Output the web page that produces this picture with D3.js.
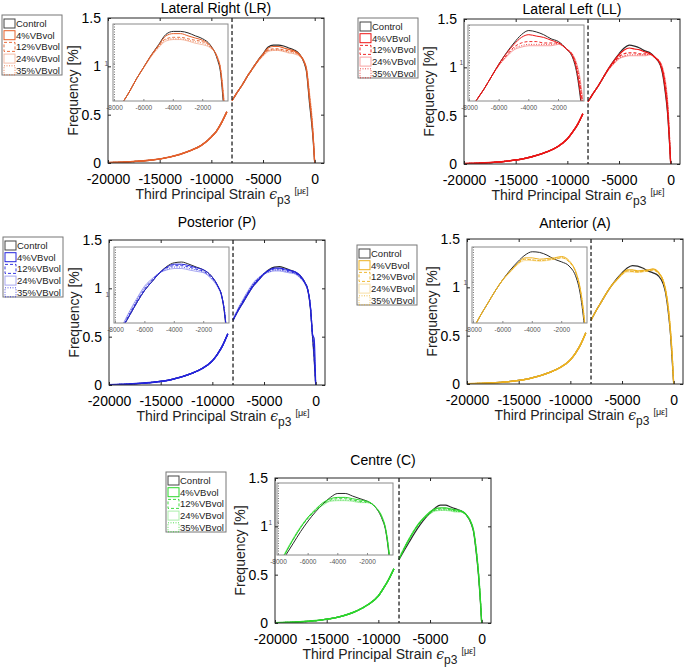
<!DOCTYPE html>
<html><head><meta charset="utf-8">
<script src="https://cdn.jsdelivr.net/npm/d3@7"></script>
<style>
body{margin:0;background:#fff}
svg{display:block}
text{font-family:"Liberation Sans",Arial,sans-serif}
</style>
</head><body>
<svg id="c" width="687" height="671"></svg>
<script>
// ---------- data ----------
const seriesNames = ["Control","4%VBvol","12%VBvol","24%VBvol","35%VBvol"];
const xLeft  = [-20000,-18000,-16000,-14000,-12000,-11000,-10000,-9500,-9000,-8500];
const xRight = [-8000,-7500,-7000,-6500,-6000,-5500,-5000,-4500,-4000,-3500,-3000,-2500,-2000,-1500,-1000,-800,-500,-300,-150,0];
const xTicks = [-20000,-15000,-10000,-5000,0];
const yTicks = [0,0.5,1,1.5];
const insetXTicks = [-8000,-6000,-4000,-2000];
const insetYTicks = [1];
const threshold = -8000;

// Lateral Right
const lrLeft    = [0.004,0.012,0.028,0.062,0.13,0.18,0.27,0.33,0.42,0.53];
const lrControl = [0.645,0.73,0.81,0.90,0.98,1.06,1.13,1.20,1.22,1.22,1.21,1.19,1.17,1.13,1.03,0.95,0.62,0.42,0.24,0];
const lr4       = [0.645,0.73,0.81,0.90,0.98,1.06,1.125,1.19,1.205,1.205,1.19,1.175,1.16,1.125,1.04,0.97,0.66,0.46,0.27,0];
const lr12      = [0.645,0.73,0.81,0.90,0.98,1.055,1.12,1.17,1.18,1.18,1.17,1.16,1.15,1.12,1.04,0.97,0.68,0.48,0.28,0];
const lr24      = [0.645,0.73,0.81,0.90,0.975,1.05,1.11,1.155,1.165,1.165,1.155,1.14,1.13,1.11,1.05,0.98,0.72,0.52,0.30,0];
const lr35      = [0.645,0.73,0.81,0.90,0.98,1.055,1.115,1.165,1.17,1.17,1.16,1.15,1.14,1.115,1.045,0.975,0.70,0.50,0.29,0];
// Lateral Left
const llLeft    = [0.004,0.012,0.028,0.06,0.125,0.175,0.26,0.33,0.41,0.52];
const llControl = [0.645,0.73,0.81,0.90,0.99,1.07,1.14,1.20,1.23,1.22,1.20,1.17,1.15,1.10,1.02,0.94,0.72,0.52,0.28,0];
const ll4       = [0.645,0.73,0.81,0.90,0.99,1.065,1.13,1.18,1.20,1.19,1.18,1.16,1.14,1.10,1.03,0.96,0.75,0.55,0.30,0];
const ll12      = [0.645,0.73,0.81,0.90,0.985,1.05,1.11,1.14,1.15,1.15,1.14,1.14,1.14,1.10,1.04,0.98,0.80,0.60,0.33,0];
const ll24      = [0.645,0.73,0.81,0.90,0.98,1.04,1.09,1.11,1.12,1.12,1.12,1.12,1.13,1.10,1.05,1.00,0.85,0.65,0.38,0];
const ll35      = [0.645,0.73,0.81,0.90,0.98,1.045,1.10,1.12,1.13,1.13,1.13,1.13,1.135,1.10,1.045,0.99,0.82,0.62,0.35,0];
// Posterior
const pLeft     = [0.003,0.01,0.025,0.055,0.12,0.17,0.25,0.32,0.41,0.53];
const pControl  = [0.67,0.77,0.86,0.95,1.03,1.09,1.15,1.195,1.22,1.225,1.21,1.19,1.17,1.13,1.05,1.0,0.78,0.5,0.28,0];
const p4        = [0.67,0.77,0.86,0.95,1.03,1.09,1.15,1.19,1.21,1.21,1.20,1.185,1.17,1.13,1.05,1.0,0.8,0.52,0.48,0];
const p12       = [0.67,0.775,0.87,0.96,1.04,1.10,1.15,1.185,1.20,1.20,1.19,1.175,1.16,1.12,1.05,1.0,0.8,0.5,0.3,0];
const p24       = [0.68,0.79,0.89,0.98,1.06,1.11,1.15,1.17,1.18,1.18,1.17,1.16,1.15,1.11,1.04,0.99,0.79,0.48,0.26,0];
const p35       = [0.675,0.785,0.88,0.97,1.05,1.105,1.15,1.175,1.19,1.19,1.18,1.17,1.155,1.115,1.045,0.995,0.8,0.5,0.35,0];
// Anterior
const aLeft     = [0.003,0.01,0.024,0.055,0.12,0.17,0.25,0.32,0.41,0.53];
const aControl  = [0.66,0.76,0.85,0.94,1.02,1.09,1.15,1.20,1.225,1.22,1.20,1.17,1.15,1.12,1.03,0.95,0.72,0.5,0.25,0];
const a4        = [0.66,0.76,0.85,0.94,1.02,1.08,1.14,1.18,1.18,1.17,1.175,1.18,1.19,1.16,1.06,0.98,0.76,0.52,0.3,0];
const a12       = [0.66,0.76,0.85,0.94,1.02,1.08,1.135,1.17,1.165,1.16,1.165,1.17,1.18,1.15,1.06,0.98,0.76,0.53,0.3,0];
const a24       = [0.66,0.76,0.85,0.94,1.015,1.075,1.13,1.16,1.16,1.155,1.16,1.17,1.18,1.15,1.07,0.99,0.78,0.55,0.32,0];
const a35       = [0.66,0.76,0.85,0.94,1.02,1.08,1.135,1.17,1.165,1.16,1.165,1.175,1.185,1.155,1.065,0.985,0.77,0.54,0.31,0];
// Centre
const cLeft     = [0.003,0.01,0.025,0.058,0.13,0.19,0.28,0.36,0.45,0.56];
const cControl  = [0.655,0.75,0.84,0.93,1.01,1.08,1.14,1.19,1.22,1.22,1.20,1.18,1.16,1.12,1.02,0.95,0.70,0.48,0.26,0];
const c4        = [0.66,0.77,0.87,0.96,1.04,1.10,1.15,1.18,1.19,1.19,1.18,1.17,1.16,1.12,1.03,0.96,0.72,0.50,0.28,0];
const c12       = [0.66,0.77,0.87,0.96,1.03,1.09,1.14,1.17,1.18,1.18,1.17,1.16,1.155,1.12,1.03,0.96,0.72,0.50,0.28,0];
const c24       = [0.67,0.78,0.88,0.97,1.04,1.09,1.13,1.16,1.165,1.165,1.16,1.15,1.15,1.12,1.04,0.97,0.74,0.52,0.30,0];
const c35       = [0.665,0.775,0.875,0.965,1.035,1.09,1.135,1.165,1.17,1.17,1.165,1.155,1.15,1.12,1.035,0.965,0.73,0.51,0.29,0];

// ---------- layout ----------
const W = 216, H = 145;
const panels = [
  {title:"Lateral Right (LR)", color:"#E5602B", left:lrLeft, right:[lrControl,lr4,lr12,lr24,lr35], insetY:[0.75,1.27],
   x:108, y:18, titleDy:-5, legend:[2,15], inset:{dx:5,dy:6,w:115,h:77}},
  {title:"Lateral Left (LL)", color:"#EE1414", left:llLeft, right:[llControl,ll4,ll12,ll24,ll35], insetY:[0.72,1.27],
   x:464, y:19, titleDy:-5, legend:[358,18], inset:{dx:4,dy:6,w:116,h:76}},
  {title:"Posterior (P)", color:"#2424DD", left:pLeft, right:[pControl,p4,p12,p24,p35], insetY:[0.80,1.33],
   x:109, y:240, titleDy:-13, legend:[3,237], inset:{dx:5,dy:7,w:115,h:76}},
  {title:"Anterior (A)", color:"#EDB120", left:aLeft, right:[aControl,a4,a12,a24,a35], insetY:[0.70,1.26],
   x:467, y:239, titleDy:-11, legend:[357,245], inset:{dx:5,dy:8,w:115,h:76}},
  {title:"Centre (C)", color:"#2BD62B", left:cLeft, right:[cControl,c4,c12,c24,c35], insetY:[0.75,1.30],
   x:275, y:478, titleDy:-13, legend:[166,472], inset:{dx:2,dy:5,w:116,h:72}}
];

function styleFor(i, color){
  if(i===0) return {stroke:"#2a2a2a", dash:null, op:1};
  if(i===1) return {stroke:color, dash:null, op:1};
  if(i===2) return {stroke:color, dash:"3,2", op:0.9};
  if(i===3) return {stroke:color, dash:null, op:0.4};
  return {stroke:color, dash:"1,1.5", op:0.8};
}

const svg = d3.select("#c");
const axisColor = "#262626";

panels.forEach((p, pi) => {
  const g = svg.append("g").attr("transform", `translate(${p.x},${p.y})`);
  const xs = d3.scaleLinear().domain([-20000, 900]).range([0, W]);
  const ys = d3.scaleLinear().domain([0, 1.5]).range([H, 0]);

  const clipId = "clip" + pi;
  g.append("clipPath").attr("id", clipId).append("rect").attr("width", W).attr("height", H);
  const plot = g.append("g").attr("clip-path", `url(#${clipId})`);

  const line = d3.line().x(d => xs(d[0])).y(d => ys(d[1])).curve(d3.curveMonotoneX);

  // series
  p.right.forEach((vals, si) => {
    const st = styleFor(si, p.color);
    const leftPts = xLeft.map((x, k) => [x, p.left[k]]);
    const rightPts = xRight.map((x, k) => [x, vals[k]]);
    [leftPts, rightPts].forEach(pts => {
      plot.append("path").attr("d", line(pts)).attr("fill", "none")
        .attr("stroke", st.stroke).attr("stroke-width", 1.2)
        .attr("stroke-opacity", st.op)
        .attr("stroke-dasharray", st.dash);
    });
  });
  // left segment on top in series colour
  plot.append("path").attr("d", line(xLeft.map((x, k) => [x, p.left[k]])))
    .attr("fill", "none").attr("stroke", p.color).attr("stroke-width", 1.5);

  // threshold line
  g.append("line").attr("x1", xs(threshold)).attr("x2", xs(threshold))
    .attr("y1", 0).attr("y2", H).attr("stroke", "#222").attr("stroke-width", 1.3)
    .attr("stroke-dasharray", "4,2.5");

  // inset
  const ins = p.inset;
  const ig = g.append("g").attr("transform", `translate(${ins.dx},${ins.dy})`);
  const ixs = d3.scaleLinear().domain([-8100, -280]).range([0, ins.w]);
  const iys = d3.scaleLinear().domain(p.insetY).range([ins.h, 0]);
  ig.append("rect").attr("width", ins.w).attr("height", ins.h).attr("fill", "#fff");
  const iclip = "iclip" + pi;
  ig.append("clipPath").attr("id", iclip).append("rect").attr("width", ins.w).attr("height", ins.h);
  const iplot = ig.append("g").attr("clip-path", `url(#${iclip})`);
  const iline = d3.line().x(d => ixs(d[0])).y(d => iys(d[1])).curve(d3.curveMonotoneX);
  iplot.append("line").attr("x1", ixs(threshold)).attr("x2", ixs(threshold))
    .attr("y1", 0).attr("y2", ins.h).attr("stroke", "#777").attr("stroke-width", 1)
    .attr("stroke-dasharray", "1,1.5");
  p.right.forEach((vals, si) => {
    const st = styleFor(si, p.color);
    iplot.append("path").attr("d", iline(xRight.map((x, k) => [x, vals[k]])))
      .attr("fill", "none").attr("stroke", st.stroke).attr("stroke-width", 1)
      .attr("stroke-opacity", st.op).attr("stroke-dasharray", st.dash);
  });
  ig.append("rect").attr("width", ins.w).attr("height", ins.h).attr("fill", "none")
    .attr("stroke", "#8a8a8a").attr("stroke-width", 1);
  insetXTicks.forEach(t => {
    ig.append("line").attr("x1", ixs(t)).attr("x2", ixs(t)).attr("y1", ins.h).attr("y2", ins.h - 2)
      .attr("stroke", "#8a8a8a");
    ig.append("text").attr("x", ixs(t)).attr("y", ins.h + 9).attr("text-anchor", "middle")
      .style("font-size", "6.5px").attr("fill", "#555").text(String(t));
  });
  insetYTicks.forEach(t => {
    ig.append("line").attr("x1", 0).attr("x2", 2).attr("y1", iys(t)).attr("y2", iys(t)).attr("stroke", "#8a8a8a");
    ig.append("text").attr("x", -5).attr("y", iys(t) + 2.5).attr("text-anchor", "end")
      .style("font-size", "6.5px").attr("fill", "#555").text(t);
  });

  // axes frame and ticks
  g.append("rect").attr("width", W).attr("height", H).attr("fill", "none")
    .attr("stroke", axisColor).attr("stroke-width", 1);
  const xAxB = d3.axisBottom(xs).tickValues(xTicks).tickSizeInner(-3).tickSizeOuter(0)
    .tickFormat(d => String(d)).tickPadding(11);
  const gx = g.append("g").attr("transform", `translate(0,${H})`).call(xAxB);
  gx.select(".domain").remove();
  gx.selectAll("text").style("font-size", "14px").attr("fill", "#000");
  gx.selectAll("line").attr("stroke", axisColor);
  const gxt = g.append("g").call(d3.axisTop(xs).tickValues(xTicks).tickSizeInner(-3).tickSizeOuter(0).tickFormat(""));
  gxt.select(".domain").remove(); gxt.selectAll("line").attr("stroke", axisColor);

  const gy = g.append("g").call(d3.axisLeft(ys).tickValues(yTicks).tickSizeInner(-3).tickSizeOuter(0)
    .tickFormat(d => String(d)).tickPadding(7));
  gy.select(".domain").remove();
  gy.selectAll("text").style("font-size", "14px").attr("fill", "#000");
  gy.selectAll("line").attr("stroke", axisColor);
  const gyr = g.append("g").attr("transform", `translate(${W},0)`)
    .call(d3.axisRight(ys).tickValues(yTicks).tickSizeInner(-3).tickSizeOuter(0).tickFormat(""));
  gyr.select(".domain").remove(); gyr.selectAll("line").attr("stroke", axisColor);

  // title
  g.append("text").attr("x", W / 2).attr("y", p.titleDy).attr("text-anchor", "middle")
    .style("font-size", "14px").attr("fill", "#000").text(p.title);

  // y label
  g.append("text").attr("transform", `translate(-30,${H / 2}) rotate(-90)`).attr("text-anchor", "middle")
    .style("font-size", "14px").attr("fill", "#222").text("Frequency [%]");

  // x label
  const xl = g.append("text").attr("x", W / 2 + 6).attr("y", H + 36).attr("text-anchor", "middle")
    .style("font-size", "14px").attr("fill", "#222");
  xl.append("tspan").text("Third Principal Strain ");
  xl.append("tspan").style("font-family", "'DejaVu Serif',serif").style("font-style", "italic").text("ϵ");
  xl.append("tspan").attr("dy", 5).style("font-size", "12px").text("p3");
  xl.append("tspan").attr("dy", -10).attr("dx", 4).style("font-size", "9px").text("[με]");

  // legend
  const lg = svg.append("g").attr("transform", `translate(${p.legend[0]},${p.legend[1]})`);
  lg.append("rect").attr("width", 60).attr("height", 60).attr("fill", "#fff")
    .attr("stroke", "#777").attr("stroke-width", 1);
  seriesNames.forEach((name, si) => {
    const st = styleFor(si, p.color);
    const cy = 8.5 + si * 11.7;
    lg.append("rect").attr("x", 2).attr("y", cy - 4.5).attr("width", 11).attr("height", 9)
      .attr("fill", "none").attr("stroke", si === 0 ? "#444" : st.stroke)
      .attr("stroke-opacity", st.op).attr("stroke-dasharray", st.dash).attr("stroke-width", 1);
    lg.append("text").attr("x", 14).attr("y", cy + 3.5).style("font-size", "9.5px")
      .attr("fill", "#222").text(name);
  });
});
</script>
</body></html>
